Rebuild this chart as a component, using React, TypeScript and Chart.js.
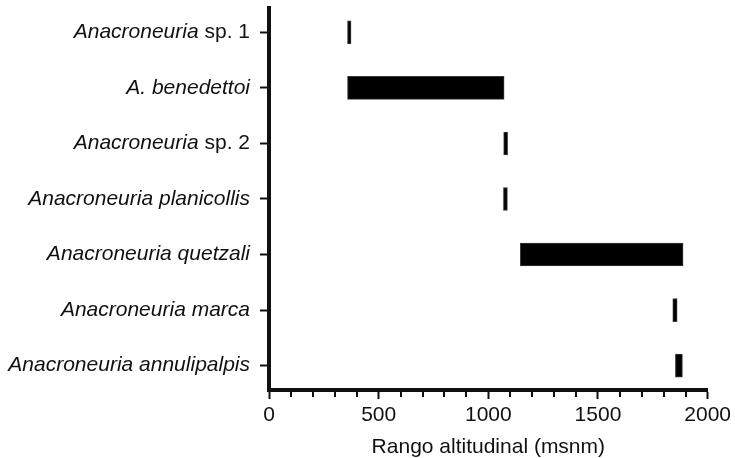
import React, { useEffect, useRef } from "react";
import { Chart, registerables } from "chart.js";

Chart.register(...registerables);

// ---- data ----
const italicParts = [
  "Anacroneuria",
  "A. benedettoi",
  "Anacroneuria",
  "Anacroneuria planicollis",
  "Anacroneuria quetzali",
  "Anacroneuria marca",
  "Anacroneuria annulipalpis",
];
const romanParts = [" sp. 1", "", " sp. 2", "", "", "", ""];
const categories = italicParts.map((p, i) => p + romanParts[i]);
const lowValues = [358, 358, 1070, 1069, 1146, 1841, 1853];
const highValues = [374, 1072, 1088, 1087, 1888, 1861, 1885];
const xMajorStep = 500;
const xMinorStep = 100;
const xTitle = "Rango altitudinal (msnm)";

const FAMILY = '"Liberation Sans", Arial, Helvetica, sans-serif';
const FONT_SIZE = 21;
const TEXT = "#111111";
const AXIS = "#111111";

const labelPlugin = {
  id: "speciesLabels",
  afterDraw(chart: any) {
    const ctx = chart.ctx;
    const ys = chart.scales.y;
    const xs = chart.scales.x;
    const area = chart.chartArea;
    ctx.save();
    ctx.fillStyle = TEXT;
    ctx.textBaseline = "middle";
    ctx.textAlign = "right";
    const right = area.left - 19;
    categories.forEach((_, i) => {
      const py = ys.getPixelForValue(i);
      let rw = 0;
      if (romanParts[i]) {
        ctx.font = `normal ${FONT_SIZE}px ${FAMILY}`;
        rw = ctx.measureText(romanParts[i]).width;
        ctx.fillText(romanParts[i], right, py);
      }
      ctx.font = `italic ${FONT_SIZE}px ${FAMILY}`;
      ctx.fillText(italicParts[i], right - rw, py);
    });
    // minor ticks on x axis
    ctx.strokeStyle = AXIS;
    ctx.lineWidth = 2;
    for (let v = xs.min + xMinorStep; v < xs.max; v += xMinorStep) {
      if (v % xMajorStep === 0) continue;
      const px = Math.round(xs.getPixelForValue(v));
      ctx.beginPath();
      ctx.moveTo(px, area.bottom + 1);
      ctx.lineTo(px, area.bottom + 7);
      ctx.stroke();
    }
    ctx.restore();
  },
};

export default function App() {
  const ref = useRef<HTMLCanvasElement>(null);
  useEffect(() => {
    const chart = new Chart(ref.current as HTMLCanvasElement, {
      type: "bar",
      data: {
        datasets: [
          {
            data: categories.map((_, i) => ({ y: i, x: [lowValues[i], highValues[i]] })) as any,
            backgroundColor: "#000000",
            borderColor: "#3a3a3a",
            borderWidth: 1,
            borderSkipped: false,
            barThickness: 23,
          } as any,
        ],
      },
      options: {
        indexAxis: "y",
        responsive: false,
        animation: false,
        devicePixelRatio: 1,
        layout: { padding: { top: 8, right: 26, left: 0, bottom: 0 } },
        plugins: { legend: { display: false }, tooltip: { enabled: false } },
        scales: {
          x: {
            type: "linear",
            position: "bottom",
            min: 0,
            max: 2000,
            ticks: {
              stepSize: xMajorStep,
              autoSkip: false,
              maxRotation: 0,
              padding: 4,
              color: TEXT,
              font: { family: FAMILY, size: FONT_SIZE },
              callback: (v: any) => String(v),
            },
            grid: { drawOnChartArea: false, tickLength: 9, tickWidth: 2, tickColor: AXIS },
            border: { width: 4, color: AXIS },
            title: {
              display: true,
              text: xTitle,
              color: TEXT,
              font: { family: FAMILY, size: FONT_SIZE },
              padding: { top: 0, bottom: -2 },
            },
            afterFit: (s: any) => {
              s.height = 68;
            },
          },
          y: {
            type: "linear",
            position: "left",
            reverse: true,
            offset: false,
            min: -0.44,
            max: 6.44,
            ticks: { display: false },
            afterBuildTicks: (s: any) => {
              s.ticks = categories.map((_, i) => ({ value: i }));
            },
            grid: {
              offset: false,
              drawOnChartArea: false,
              tickLength: 9,
              tickWidth: 2,
              tickColor: AXIS,
            },
            border: { width: 4, color: AXIS },
            afterFit: (s: any) => {
              s.width = 269;
            },
          },
        },
      } as any,
      plugins: [labelPlugin],
    });
    return () => chart.destroy();
  }, []);
  return (
    <div style={{ position: "fixed", left: 0, top: 0, width: 735, height: 458, background: "#fff" }}>
      <canvas ref={ref} width={735} height={458} style={{ display: "block" }} />
    </div>
  );
}
